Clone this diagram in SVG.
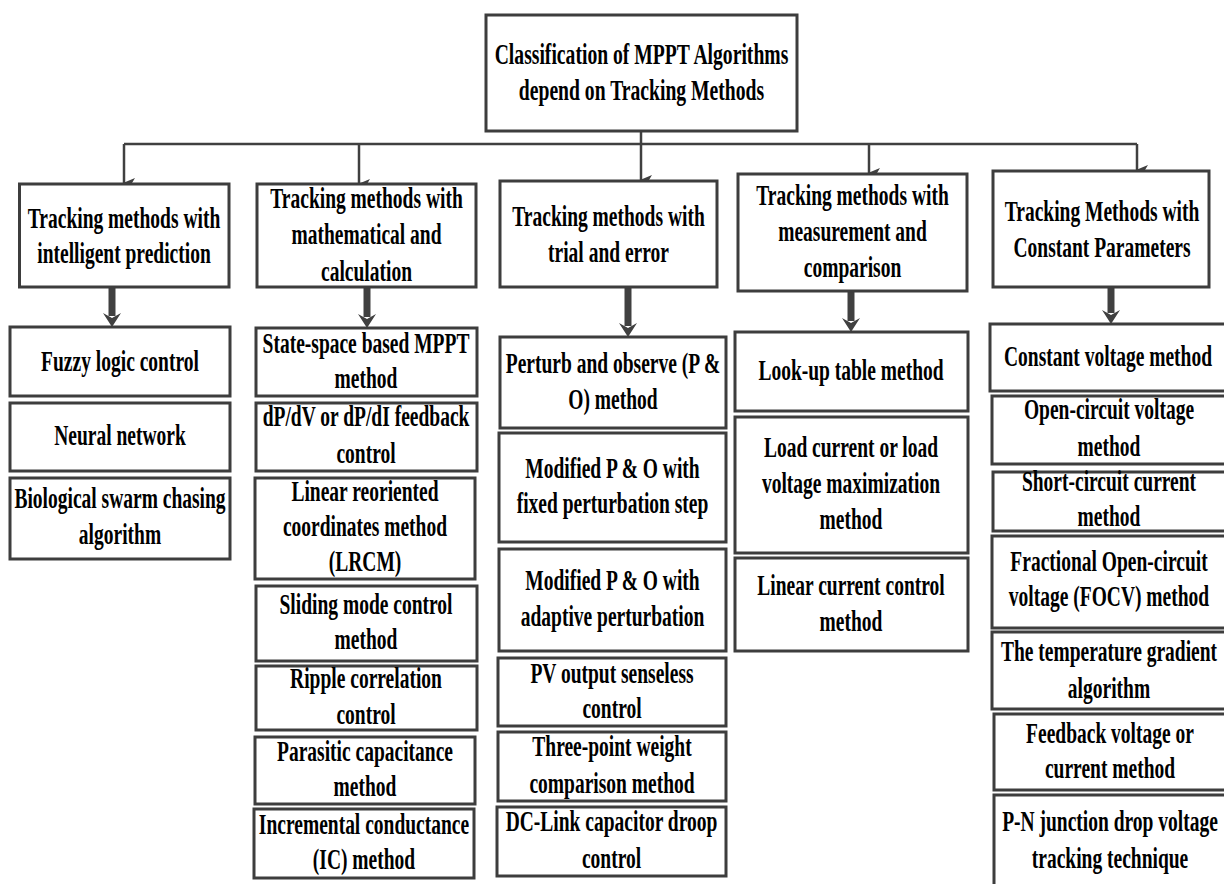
<svg xmlns="http://www.w3.org/2000/svg" width="1224" height="884" viewBox="0 0 1224 884">
<style>
.b{fill:#fff;stroke:#3d3d3d;stroke-width:3}
.t{font-family:"Liberation Serif","Times New Roman",serif;font-weight:bold;font-size:30px;fill:#000;text-anchor:middle}
.thin{stroke:#404040;stroke-width:2.5;fill:none}
.thick{stroke:#404040;stroke-width:7;fill:none}
</style>
<defs>
<marker id="ah" markerWidth="10" markerHeight="12" refX="5" refY="11" orient="auto" markerUnits="userSpaceOnUse" viewBox="0 0 10 12">
<path d="M0,0 L5,3 L10,0 L5,12 Z" fill="#404040"/>
</marker>
</defs>
<rect width="1224" height="884" fill="#fff"/>
<g id="connectors">
<path class="thin" d="M641,131 V144 M124,144 H1137"/>
<path class="thin" d="M124,144 V183" marker-end="url(#ah)"/>
<path class="thin" d="M359,144 V184" marker-end="url(#ah)"/>
<path class="thin" d="M641,144 V180" marker-end="url(#ah)"/>
<path class="thin" d="M869,144 V173" marker-end="url(#ah)"/>
<path class="thin" d="M1137,144 V170" marker-end="url(#ah)"/>
<path class="thick" d="M112,287 V316"/><path d="M103,313 L112,318 L121,313 L112,327 Z" fill="#404040"/>
<path class="thick" d="M367,287 V317"/><path d="M358,314 L367,319 L376,314 L367,328 Z" fill="#404040"/>
<path class="thick" d="M628,287 V326"/><path d="M619,323 L628,328 L637,323 L628,337 Z" fill="#404040"/>
<path class="thick" d="M851,291 V321"/><path d="M842,318 L851,323 L860,318 L851,332 Z" fill="#404040"/>
<path class="thick" d="M1111,287 V313"/><path d="M1102,310 L1111,315 L1120,310 L1111,324 Z" fill="#404040"/>
</g>
<g id="root"><rect class="b" x="486" y="15" width="311" height="116"/>
<text class="t" transform="translate(641.5,0) scale(0.655,1)"><tspan x="0" y="64">Classification of MPPT Algorithms</tspan><tspan x="0" y="100">depend on Tracking Methods</tspan></text></g>
<g id="cat1"><rect class="b" x="19.5" y="184" width="209.5" height="103"/>
<text class="t" transform="translate(124,0) scale(0.65,1)"><tspan x="0" y="228">Tracking methods with</tspan><tspan x="0" y="263">intelligent prediction</tspan></text></g>
<g id="cat2"><rect class="b" x="257" y="184" width="219" height="103"/>
<text class="t" transform="translate(366.5,0) scale(0.65,1)"><tspan x="0" y="208">Tracking methods with</tspan><tspan x="0" y="244">mathematical and</tspan><tspan x="0" y="281">calculation</tspan></text></g>
<g id="cat3"><rect class="b" x="500" y="181" width="217" height="106"/>
<text class="t" transform="translate(608.5,0) scale(0.65,1)"><tspan x="0" y="226">Tracking methods with</tspan><tspan x="0" y="262">trial and error</tspan></text></g>
<g id="cat4"><rect class="b" x="738" y="174" width="229" height="117"/>
<text class="t" transform="translate(852.5,0) scale(0.65,1)"><tspan x="0" y="205">Tracking methods with</tspan><tspan x="0" y="241">measurement and</tspan><tspan x="0" y="277">comparison</tspan></text></g>
<g id="cat5"><rect class="b" x="993" y="171" width="216" height="116"/>
<text class="t" transform="translate(1102,0) scale(0.65,1)"><tspan x="0" y="221">Tracking Methods with</tspan><tspan x="0" y="257">Constant Parameters</tspan></text></g>

<g id="c1a"><rect class="b" x="10" y="327" width="220" height="69"/>
<text class="t" transform="translate(120,0) scale(0.65,1)"><tspan x="0" y="371">Fuzzy logic control</tspan></text></g>
<g id="c1b"><rect class="b" x="10" y="403" width="220" height="68"/>
<text class="t" transform="translate(120,0) scale(0.65,1)"><tspan x="0" y="445">Neural network</tspan></text></g>
<g id="c1c"><rect class="b" x="10" y="478" width="220" height="81"/>
<text class="t" transform="translate(120,0) scale(0.65,1)"><tspan x="0" y="508">Biological swarm chasing</tspan><tspan x="0" y="544">algorithm</tspan></text></g>

<g id="c2a"><rect class="b" x="256" y="328" width="221" height="68"/>
<text class="t" transform="translate(366,0) scale(0.65,1)"><tspan x="0" y="353">State-space based MPPT</tspan><tspan x="0" y="388">method</tspan></text></g>
<g id="c2b"><rect class="b" x="256" y="403" width="221" height="68"/>
<text class="t" transform="translate(366,0) scale(0.65,1)"><tspan x="0" y="426">dP/dV or dP/dI feedback</tspan><tspan x="0" y="463">control</tspan></text></g>
<g id="c2c"><rect class="b" x="255" y="478" width="220" height="101"/>
<text class="t" transform="translate(365,0) scale(0.65,1)"><tspan x="0" y="501">Linear reoriented</tspan><tspan x="0" y="536">coordinates method</tspan><tspan x="0" y="571">(LRCM)</tspan></text></g>
<g id="c2d"><rect class="b" x="256" y="586" width="221" height="75"/>
<text class="t" transform="translate(366,0) scale(0.65,1)"><tspan x="0" y="614">Sliding mode control</tspan><tspan x="0" y="649">method</tspan></text></g>
<g id="c2e"><rect class="b" x="256" y="666" width="221" height="64"/>
<text class="t" transform="translate(366,0) scale(0.65,1)"><tspan x="0" y="688">Ripple correlation</tspan><tspan x="0" y="724">control</tspan></text></g>
<g id="c2f"><rect class="b" x="255" y="737" width="220" height="67"/>
<text class="t" transform="translate(365,0) scale(0.65,1)"><tspan x="0" y="761">Parasitic capacitance</tspan><tspan x="0" y="796">method</tspan></text></g>
<g id="c2g"><rect class="b" x="254" y="809" width="220" height="69"/>
<text class="t" transform="translate(364,0) scale(0.65,1)"><tspan x="0" y="834">Incremental conductance</tspan><tspan x="0" y="869">(IC) method</tspan></text></g>

<g id="c3a"><rect class="b" x="500" y="337" width="226" height="91"/>
<text class="t" transform="translate(613,0) scale(0.65,1)"><tspan x="0" y="373">Perturb and observe (P &amp;</tspan><tspan x="0" y="409">O) method</tspan></text></g>
<g id="c3b"><rect class="b" x="499" y="433" width="227" height="109"/>
<text class="t" transform="translate(612.5,0) scale(0.65,1)"><tspan x="0" y="478">Modified P &amp; O with</tspan><tspan x="0" y="513">fixed perturbation step</tspan></text></g>
<g id="c3c"><rect class="b" x="499" y="549" width="227" height="102"/>
<text class="t" transform="translate(612.5,0) scale(0.65,1)"><tspan x="0" y="590">Modified P &amp; O with</tspan><tspan x="0" y="626">adaptive perturbation</tspan></text></g>
<g id="c3d"><rect class="b" x="498" y="658" width="228" height="68"/>
<text class="t" transform="translate(612,0) scale(0.65,1)"><tspan x="0" y="683">PV output senseless</tspan><tspan x="0" y="718">control</tspan></text></g>
<g id="c3e"><rect class="b" x="498" y="732" width="228" height="69"/>
<text class="t" transform="translate(612,0) scale(0.65,1)"><tspan x="0" y="756">Three-point weight</tspan><tspan x="0" y="793">comparison method</tspan></text></g>
<g id="c3f"><rect class="b" x="497" y="807" width="229" height="69"/>
<text class="t" transform="translate(611.5,0) scale(0.65,1)"><tspan x="0" y="831">DC-Link capacitor droop</tspan><tspan x="0" y="868">control</tspan></text></g>

<g id="c4a"><rect class="b" x="735" y="332" width="233" height="79"/>
<text class="t" transform="translate(851,0) scale(0.65,1)"><tspan x="0" y="380">Look-up table method</tspan></text></g>
<g id="c4b"><rect class="b" x="735" y="417" width="233" height="136"/>
<text class="t" transform="translate(851,0) scale(0.65,1)"><tspan x="0" y="457">Load current or load</tspan><tspan x="0" y="493">voltage maximization</tspan><tspan x="0" y="529">method</tspan></text></g>
<g id="c4c"><rect class="b" x="735" y="558" width="233" height="93"/>
<text class="t" transform="translate(851,0) scale(0.65,1)"><tspan x="0" y="595">Linear current control</tspan><tspan x="0" y="631">method</tspan></text></g>

<g id="c5a"><rect class="b" x="990" y="324" width="240" height="67"/>
<text class="t" transform="translate(1108,0) scale(0.65,1)"><tspan x="0" y="366">Constant voltage method</tspan></text></g>
<g id="c5b"><rect class="b" x="992" y="396" width="240" height="68"/>
<text class="t" transform="translate(1109,0) scale(0.65,1)"><tspan x="0" y="419">Open-circuit voltage</tspan><tspan x="0" y="456">method</tspan></text></g>
<g id="c5c"><rect class="b" x="993" y="472" width="240" height="59"/>
<text class="t" transform="translate(1109,0) scale(0.65,1)"><tspan x="0" y="491">Short-circuit current</tspan><tspan x="0" y="526">method</tspan></text></g>
<g id="c5d"><rect class="b" x="992" y="536" width="240" height="92"/>
<text class="t" transform="translate(1109,0) scale(0.65,1)"><tspan x="0" y="571">Fractional Open-circuit</tspan><tspan x="0" y="606">voltage (FOCV) method</tspan></text></g>
<g id="c5e"><rect class="b" x="992" y="632" width="240" height="77"/>
<text class="t" transform="translate(1109,0) scale(0.65,1)"><tspan x="0" y="661">The temperature gradient</tspan><tspan x="0" y="698">algorithm</tspan></text></g>
<g id="c5f"><rect class="b" x="994" y="714" width="240" height="76"/>
<text class="t" transform="translate(1110,0) scale(0.65,1)"><tspan x="0" y="743">Feedback voltage or</tspan><tspan x="0" y="778">current method</tspan></text></g>
<g id="c5g"><rect class="b" x="994" y="795" width="240" height="100"/>
<text class="t" transform="translate(1110,0) scale(0.65,1)"><tspan x="0" y="831">P-N junction drop voltage</tspan><tspan x="0" y="868">tracking technique</tspan></text></g>
</svg>
